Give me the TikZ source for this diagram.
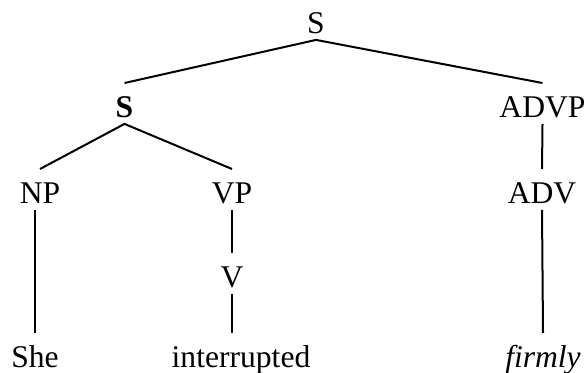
\documentclass[tikz,border=0pt]{standalone}
\usepackage{fontspec}
\setmainfont{Liberation Serif}[ItalicFont={Liberation Serif Italic},
    BoldFont={Liberation Serif Bold}]
\usepackage{tikz}

\tikzset{
    cat/.style={inner sep=0pt, text height=16.8pt, text depth=3.25pt,
        anchor=base, font=\fontsize{15.8pt}{18pt}\selectfont},
    branch/.style={line width=1pt}
}

\begin{document}
\begin{tikzpicture}[x=0.5pt,y=-0.5pt]
    \useasboundingbox (0,0) rectangle (587,372);

    % the top level
    \node[cat] (s) at (316,33) {S};
    \node[cat] (s2) at (124.5,117) {\textbf{S}};
    \node[cat] (advp) at (542.5,117) {ADVP};

    % the phrases
    \node[cat] (np) at (40,203) {NP};
    \node[cat] (vp) at (232,203) {VP};
    \node[cat] (adv) at (542,203) {ADV};
    \node[cat] (v) at (232,287) {V};

    % the words
    \node[cat] (she) at (35,367) {She};
    \node[cat] (intr) at (241,367) {interrupted};
    \node[cat] (firmly) at (543,367) {\textit{firmly}};

    % the branches
    \draw[branch] (s2.north) -- (s.south) -- (advp.north);
    \draw[branch] (np.north) -- (s2.south) -- (vp.north);
    \draw[branch] (she.north) -- (she.north |- np.south);
    \draw[branch] (vp.south) -- (v.north);
    \draw[branch] (v.south) -- (v.south |- intr.north);
    \draw[branch] (advp.south) -- (adv.north);
    \draw[branch] (adv.south) -- (firmly.north);
\end{tikzpicture}
\end{document}
